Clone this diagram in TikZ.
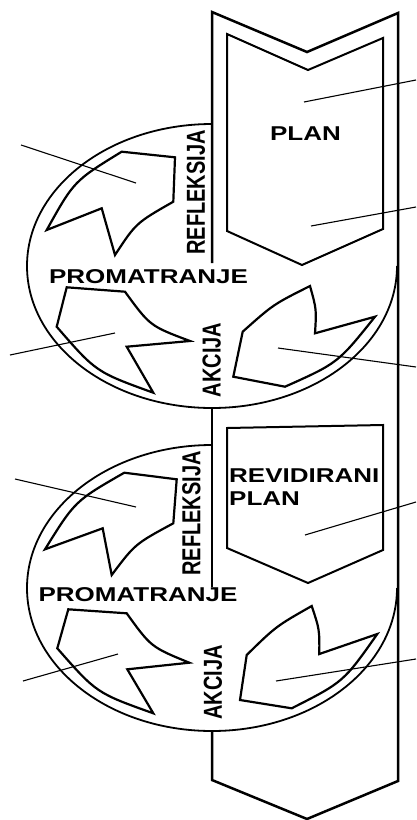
\documentclass[tikz,border=0pt]{standalone}
\usepackage{fontspec}
\setmainfont{Liberation Sans}
\usepackage{graphicx}

\newcommand{\widetxt}[1]{\scalebox{1.3}[1]{#1}}
\newcommand{\uptxt}[1]{\scalebox{1.3}[1]{\rotatebox{90}{#1}}}

\tikzset{
  band/.style={line width=2.5pt},
  box/.style={line width=2pt},
  turn/.style={line width=2.2pt, line join=miter},
  rim/.style={line width=1.8pt},
  leader/.style={line width=1.1pt},
  lbl/.style={inner sep=0pt, font=\fontsize{20}{24}\selectfont\bfseries}
}

\begin{document}
\begin{tikzpicture}[x=1pt,y=-1pt]
        \useasboundingbox (0,0) rectangle (416,820);

        %cycles
        \draw[rim] (212,124) arc[start angle=270, end angle=0, x radius=185, y radius=142];
        \draw[rim] (212,445) arc[start angle=270, end angle=0, x radius=185, y radius=143];

        %band
        \draw[band] (212,263) -- (212,12) -- (307,52) -- (398,13) -- (398,781) -- (307,819) -- (212,780) -- (212,731);
        \draw[band] (212,408) -- (212,587);

        %plans
        \draw[box] (227,34) -- (308,70) -- (383,38) -- (383,229) -- (302,265) -- (227,231) -- cycle;
        \draw[box] (227,428) -- (383,425) -- (383,550) -- (308,583) -- (227,548) -- cycle;

        %first cycle arrows
        \draw[turn] (121.7,151.7) -- (175,157.3) -- (173.3,201.7) .. controls (136,223) .. (115,255) -- (101.7,208.3) -- (46.7,230) .. controls (74,181) .. (121.7,151.7) -- cycle;
        \draw[turn] (66.7,287.3) -- (125,291.7) .. controls (150,326) .. (190,341) -- (126.7,346.7) -- (153.3,392.7) .. controls (96,372) .. (56.7,326.7) -- cycle;
        \draw[turn] (310,286) .. controls (316.5,309.3) .. (315,333.3) -- (375,316.7) .. controls (338,363) .. (285,386.7) -- (233.3,376.7) -- (242.7,331.7) .. controls (273.3,304.4) .. (310,286) -- cycle;

        %second cycle arrows
        \draw[turn] (124.3,472.7) -- (176.7,479.3) -- (173.3,523.3) .. controls (135,544) .. (111.7,575) -- (102.7,528.3) -- (45,549.3) .. controls (75,501) .. (124.3,472.7) -- cycle;
        \draw[turn] (68.3,609.3) -- (126.7,613.3) .. controls (151,647) .. (189.3,662.7) -- (127.3,669.3) -- (153.3,713.3) .. controls (96.5,693) .. (57.3,648.3) -- cycle;
        \draw[turn] (311.7,606) .. controls (319.5,629.4) .. (319.3,654) -- (377.3,634) .. controls (343.5,682) .. (291.7,708.3) -- (240,700) -- (246.7,655) .. controls (276,626.3) .. (311.7,606) -- cycle;

        %labels
        \node[lbl] (plan) at (305.5,134) {\widetxt{PLAN}};
        \node[lbl] (ref1) at (196,192.5) {\uptxt{REFLEKSIJA}};
        \node[lbl] (prom1) at (148.5,276.7) {\widetxt{PROMATRANJE}};
        \node[lbl] (akc1) at (211.7,360) {\uptxt{AKCIJA}};
        \node[lbl, anchor=west] (rev) at (229,475.5) {\widetxt{REVIDIRANI}};
        \node[lbl, anchor=west] (revplan) at (229,499) {\widetxt{PLAN}};
        \node[lbl] (ref2) at (191.5,513.5) {\uptxt{REFLEKSIJA}};
        \node[lbl] (prom2) at (138,594.5) {\widetxt{PROMATRANJE}};
        \node[lbl] (akc2) at (213,682.5) {\uptxt{AKCIJA}};

        %leaders
        \coordinate (l1a) at (21,145);  \coordinate (l1b) at (136,183);
        \coordinate (l2a) at (416,80);  \coordinate (l2b) at (304,102);
        \coordinate (l3a) at (416,207); \coordinate (l3b) at (311,226);
        \coordinate (l4a) at (10,355);  \coordinate (l4b) at (115,333);
        \coordinate (l5a) at (416,367); \coordinate (l5b) at (278,348);
        \coordinate (l6a) at (15,479);  \coordinate (l6b) at (136,507);
        \coordinate (l7a) at (416,502); \coordinate (l7b) at (305,535);
        \coordinate (l8a) at (23,681);  \coordinate (l8b) at (118,654);
        \coordinate (l9a) at (416,659); \coordinate (l9b) at (276,681);
        \foreach \i in {1,...,9}
          \draw[leader] (l\i a) -- (l\i b);
\end{tikzpicture}
\end{document}
